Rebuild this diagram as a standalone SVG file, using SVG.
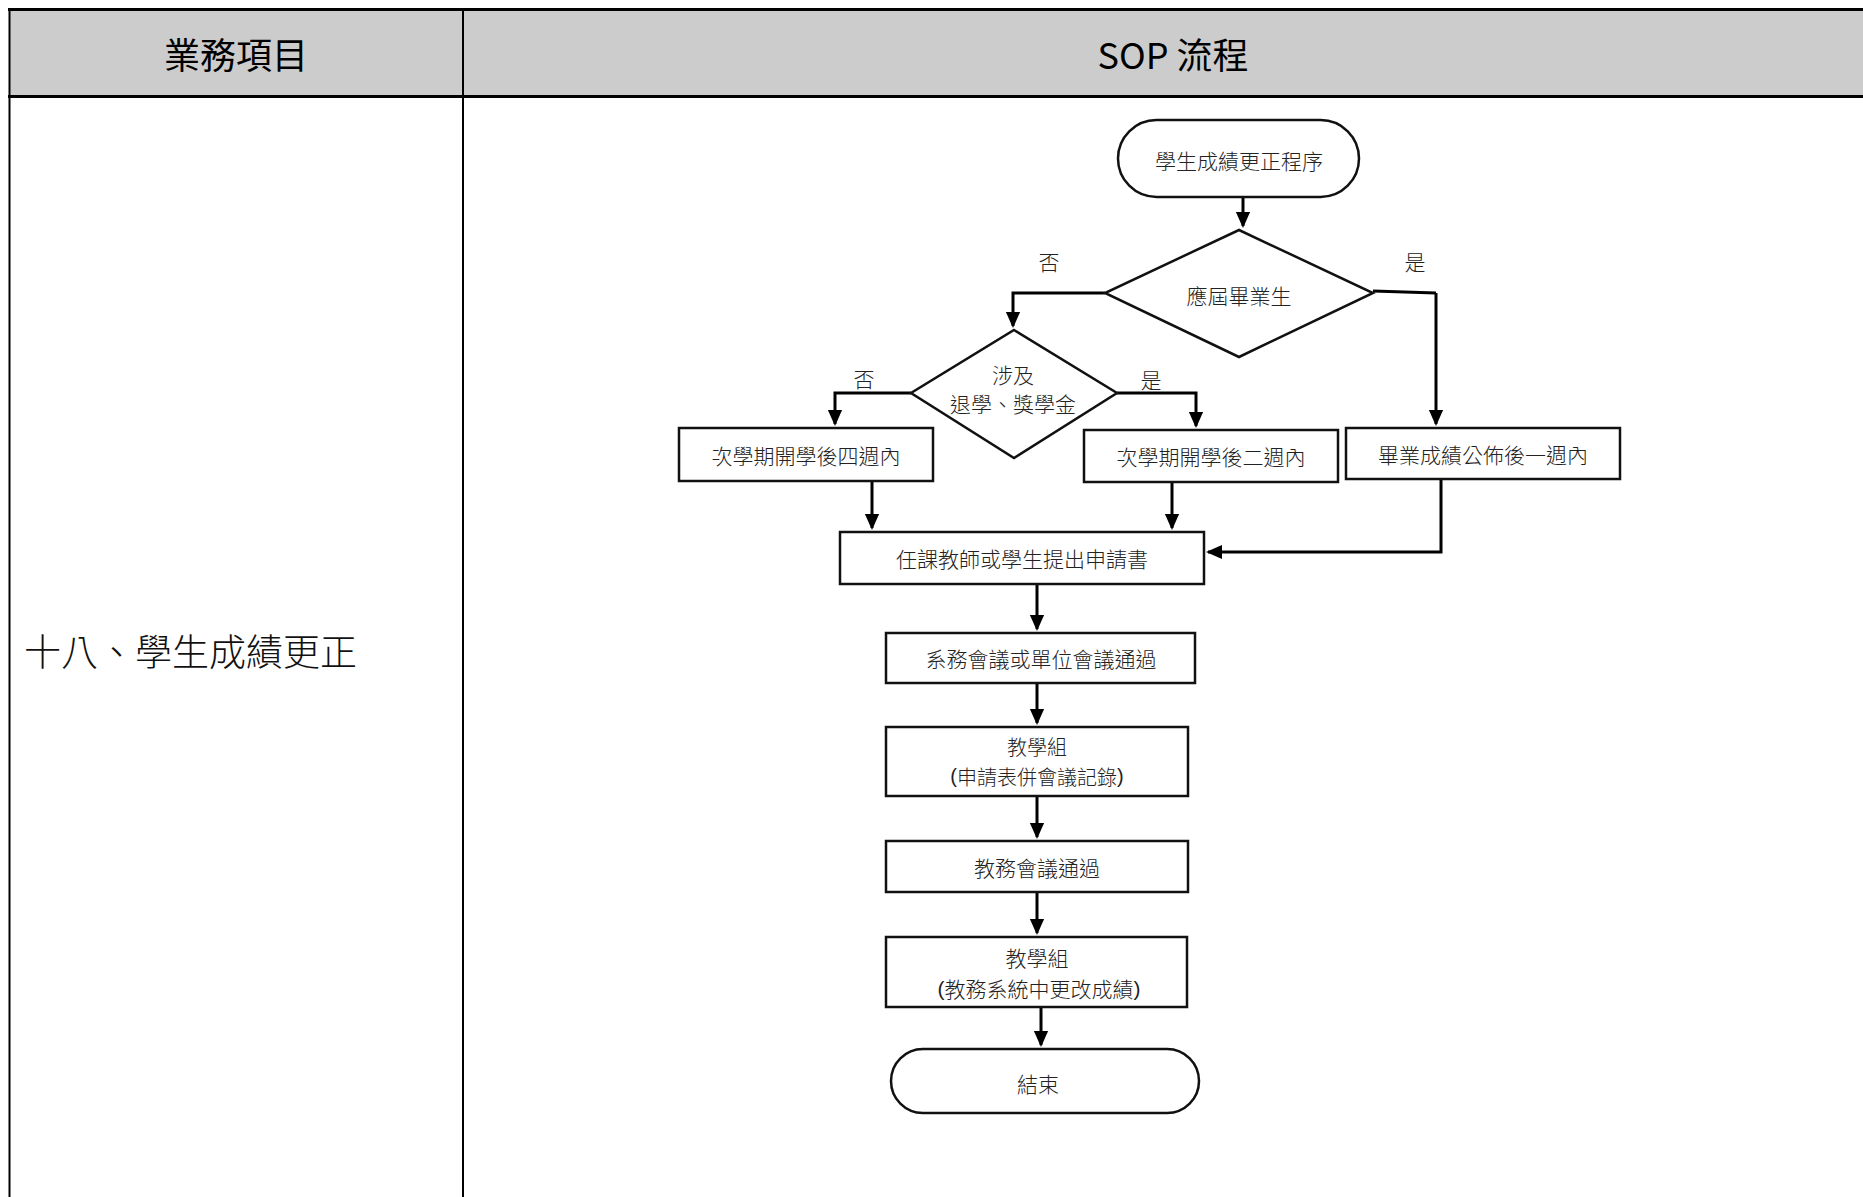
<svg xmlns="http://www.w3.org/2000/svg" width="1863" height="1197" viewBox="0 0 1863 1197">
  <style>
    .grid { stroke: #000; fill: none; }
    .head { font-family: "Noto Sans CJK TC", "Liberation Sans", sans-serif; font-size: 36px; fill: #000; text-anchor: middle; dominant-baseline: central; }
    .side { font-family: "Noto Sans CJK TC", "Liberation Sans", sans-serif; font-size: 37px; font-weight: 300; fill: #111; dominant-baseline: central; }
    .shape { fill: #fff; stroke: #111; stroke-width: 2.5; }
    .lbl { font-family: "Liberation Sans", "Noto Sans CJK TC", sans-serif; font-size: 21px; font-weight: 300; fill: #222; text-anchor: middle; dominant-baseline: central; }
    .small { font-size: 20px; }
    .cjk { font-family: "Noto Sans CJK TC", "Liberation Sans", sans-serif; }
    .edge { fill: none; stroke: #000; stroke-width: 3; marker-end: url(#arrow); }
    .plain { fill: none; stroke: #000; stroke-width: 3; }
  </style>
  <defs>
    <marker id="arrow" markerUnits="userSpaceOnUse" viewBox="0 0 16 18" markerWidth="16" markerHeight="18" refX="14" refY="8" orient="auto">
      <path d="M0,0 L18,8 L0,16 z" transform="translate(-2,0)" fill="#000"/>
    </marker>
  </defs>

  <rect width="1863" height="1197" fill="#fff"/>

  <!-- table frame -->
  <g id="table">
    <rect x="9.5" y="9.5" width="1854" height="87" fill="#cccccc"/>
    <line class="grid" x1="8" y1="9.5" x2="1863" y2="9.5" stroke-width="3"/>
    <line class="grid" x1="8" y1="96.5" x2="1863" y2="96.5" stroke-width="3"/>
    <line class="grid" x1="9.5" y1="8" x2="9.5" y2="1197" stroke-width="2"/>
    <line class="grid" x1="463" y1="8" x2="463" y2="1197" stroke-width="2"/>
    <text class="head" x="236" y="53">業務項目</text>
    <text class="head" x="1173" y="53">SOP 流程</text>
    <text class="side" x="24" y="650">十八、學生成績更正</text>
  </g>

  <!-- connectors -->
  <g id="connectors">
    <path class="edge" d="M1243,198 V226"/>
    <path class="edge" d="M1105,293 H1013 V326"/>
    <path class="plain" d="M1373,291 L1436,293"/>
    <path class="edge" d="M1436,293 V424"/>
    <path class="edge" d="M911,393 H835 V424"/>
    <path class="edge" d="M1117,393 H1196 V426"/>
    <path class="edge" d="M872,481 V528"/>
    <path class="edge" d="M1172,482 V528"/>
    <path class="edge" d="M1441,479 V552 H1208"/>
    <path class="edge" d="M1037,584 V629"/>
    <path class="edge" d="M1037,683 V723"/>
    <path class="edge" d="M1037,796 V837"/>
    <path class="edge" d="M1037,892 V933"/>
    <path class="edge" d="M1041,1007 V1045"/>
    <text class="lbl cjk" x="1049" y="261">否</text>
    <text class="lbl cjk" x="1415" y="261">是</text>
    <text class="lbl cjk" x="864" y="378">否</text>
    <text class="lbl cjk" x="1151" y="379">是</text>
  </g>

  <g id="start">
    <rect class="shape" x="1118" y="120" width="241" height="77" rx="38.5"/>
    <text class="lbl cjk" x="1239" y="160">學生成績更正程序</text>
  </g>

  <g id="graduate">
    <polygon class="shape" points="1239,230 1373,293 1239,357 1105,293"/>
    <text class="lbl cjk" x="1239" y="295">應屆畢業生</text>
  </g>

  <g id="dropout">
    <polygon class="shape" points="1014,330 1117,393 1014,458 911,393"/>
    <text class="lbl cjk" x="1013" y="374">涉及<tspan x="1013" dy="29">退學、獎學金</tspan></text>
  </g>

  <g id="four-weeks">
    <rect class="shape" x="679" y="428" width="254" height="53"/>
    <text class="lbl cjk" x="806" y="455">次學期開學後四週內</text>
  </g>

  <g id="two-weeks">
    <rect class="shape" x="1084" y="430" width="254" height="52"/>
    <text class="lbl cjk" x="1211" y="456">次學期開學後二週內</text>
  </g>

  <g id="one-week">
    <rect class="shape" x="1346" y="428" width="274" height="51"/>
    <text class="lbl cjk" x="1483" y="454">畢業成績公佈後一週內</text>
  </g>

  <g id="apply">
    <rect class="shape" x="840" y="532" width="364" height="52"/>
    <text class="lbl cjk" x="1022" y="558">任課教師或學生提出申請書</text>
  </g>

  <g id="dept-meeting">
    <rect class="shape" x="886" y="633" width="309" height="50"/>
    <text class="lbl cjk" x="1041" y="658">系務會議或單位會議通過</text>
  </g>

  <g id="teaching-records">
    <rect class="shape" x="886" y="727" width="302" height="69"/>
    <text class="lbl small" x="1037" y="746"><tspan class="cjk">教學組</tspan><tspan x="1037" dy="30">(</tspan><tspan class="cjk">申請表併會議記錄</tspan>)</text>
  </g>

  <g id="academic-meeting">
    <rect class="shape" x="886" y="841" width="302" height="51"/>
    <text class="lbl cjk" x="1037" y="867">教務會議通過</text>
  </g>

  <g id="teaching-update">
    <rect class="shape" x="886" y="937" width="301" height="70"/>
    <text class="lbl" x="1037" y="957"><tspan class="cjk">教學組</tspan><tspan x="1039" dy="31">(</tspan><tspan class="cjk">教務系統中更改成績</tspan>)</text>
  </g>

  <g id="end">
    <rect class="shape" x="891" y="1049" width="308" height="64" rx="32"/>
    <text class="lbl cjk" x="1038" y="1083">結束</text>
  </g>
</svg>
